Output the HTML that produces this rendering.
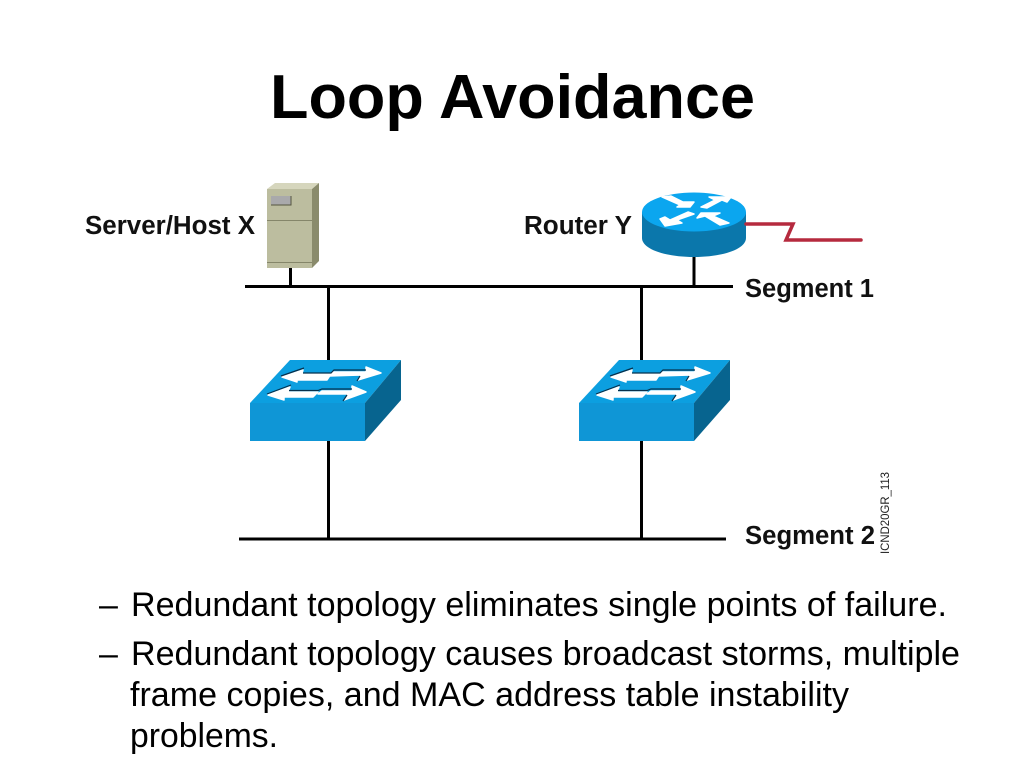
<!DOCTYPE html>
<html>
<head>
<meta charset="utf-8">
<style>
html,body{margin:0;padding:0;background:#fff;width:1024px;height:768px;overflow:hidden}
svg{display:block}
text{font-family:"Liberation Sans",Arial,sans-serif;fill:#000}
.l{font-weight:bold;font-size:25.500px;fill:#111}
.b{font-size:34px}
</style>
</head>
<body>
<svg width="1024" height="768" viewBox="0 0 1024 768" xmlns="http://www.w3.org/2000/svg">
<defs>
<g id="sw">
<polygon points="250,403 290,360 401,360 365,403" fill="#0c9fe0"/>
<polygon points="365,403 401,360 401,400 365,441" fill="#07648f"/>
<rect x="250" y="403" width="115" height="38" fill="#0f96d6"/>
<g fill="#fff" stroke="#fff" stroke-width="1.500" stroke-linejoin="round">
<polygon points="282,377 303,370 302,374 331,374 327,380 297,380 297,382"/>
<polygon points="333,372 366,372 366,367 381,373 358,380 361,375 329,376"/>
<polygon points="268,395 290,387 288,392 318,392 313,397 284,397 284,400"/>
<polygon points="322,391 352,391 352,386 366,392 344,400 348,394 318,394"/>
</g>
<path d="M281,376 L304,368 M303,373 H331 L334,370 H366 M357,381 L360,376 M267,394 L291,385 M289,390.500 H318 L322,389 H352 M343,401 L347,395" stroke="#06304c" stroke-width="1.200" fill="none"/>
</g>
</defs>

<text x="270" y="118" font-size="62" font-weight="bold" textLength="485" lengthAdjust="spacingAndGlyphs">Loop Avoidance</text>

<!-- network lines -->
<g stroke="#000" stroke-width="3" fill="none">
<line x1="245" y1="286.500" x2="733" y2="286.500"/>
<line x1="239" y1="539" x2="726" y2="539"/>
<line x1="328.500" y1="286" x2="328.500" y2="539"/>
<line x1="641.500" y1="286" x2="641.500" y2="539"/>
<line x1="290.500" y1="266" x2="290.500" y2="286"/>
<line x1="694" y1="255" x2="694" y2="286"/>
</g>

<!-- server -->
<polygon points="267,189 275,183 319,183 312,189" fill="#d6d6bd"/>
<polygon points="312,189 319,183 319,261 312,268" fill="#8a8b6c"/>
<rect x="267" y="189" width="45" height="79" fill="#bcbd9f"/>
<rect x="271" y="196" width="20" height="9" fill="#a9a9ab"/>
<path d="M271,205 H291 V196" stroke="#55553f" stroke-width="1" fill="none"/>
<line x1="267" y1="220.500" x2="312" y2="220.500" stroke="#85866a" stroke-width="1"/>
<line x1="267" y1="262.500" x2="312" y2="262.500" stroke="#85866a" stroke-width="1"/>

<!-- router -->
<path d="M642,212 V238 C642,249 665,257 694,257 C723,257 746,249 746,238 V212 Z" fill="#0b77ab"/>
<ellipse cx="694" cy="212" rx="52" ry="19.500" fill="#0ba6ef"/>
<g fill="#fff" stroke="#fff" stroke-width="1.500" stroke-linejoin="round">
<polygon points="662,197 671,196 683,202 694,202 690,207 677,207 680,205"/>
<polygon points="701,207 707,208 722,200 727,202 731,197 709,197 715,200"/>
<polygon points="660,219 665,226 682,223 677,220 694,214 688,212 670,220 665,217"/>
<polygon points="697,218 701,213 720,213 713,216 729,223 720,225 705,216"/>
</g>

<!-- serial link -->
<polyline points="746,224 793,224 786,240 861,240" fill="none" stroke="#b52a3e" stroke-width="3.500" stroke-linecap="round" stroke-linejoin="miter"/>

<!-- switches -->
<use href="#sw"/>
<use href="#sw" x="329"/>

<!-- labels -->
<text class="l" x="85" y="234" textLength="170" lengthAdjust="spacingAndGlyphs">Server/Host X</text>
<text class="l" x="524" y="234" textLength="108" lengthAdjust="spacingAndGlyphs">Router Y</text>
<text class="l" x="745" y="297" textLength="129" lengthAdjust="spacingAndGlyphs">Segment 1</text>
<text class="l" x="745" y="544" textLength="130" lengthAdjust="spacingAndGlyphs">Segment 2</text>
<text transform="translate(889,554) rotate(-90)" font-size="12" textLength="82" lengthAdjust="spacingAndGlyphs" style="fill:#222">ICND20GR_113</text>

<!-- bullets -->
<text class="b" x="99" y="616">–</text>
<text class="b" x="131" y="616" textLength="816" lengthAdjust="spacingAndGlyphs">Redundant topology eliminates single points of failure.</text>
<text class="b" x="99" y="665">–</text>
<text class="b" x="131" y="665" textLength="829" lengthAdjust="spacingAndGlyphs">Redundant topology causes broadcast storms, multiple</text>
<text class="b" x="130" y="706" textLength="719" lengthAdjust="spacingAndGlyphs">frame copies, and MAC address table instability</text>
<text class="b" x="130" y="747" textLength="148" lengthAdjust="spacingAndGlyphs">problems.</text>
</svg>
</body>
</html>
